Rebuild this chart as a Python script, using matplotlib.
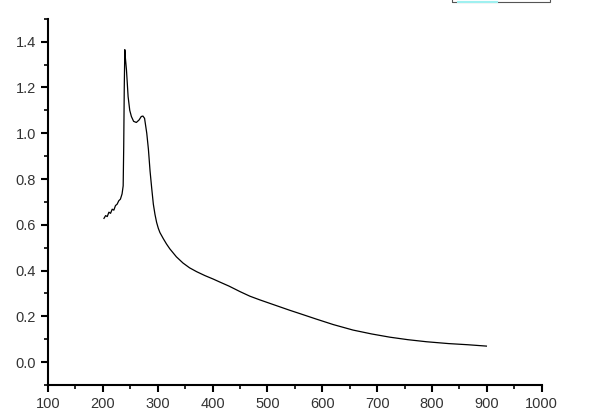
import matplotlib
matplotlib.use("Agg")
import matplotlib.pyplot as plt
from matplotlib.patches import Rectangle
from matplotlib.lines import Line2D
from matplotlib.ticker import MultipleLocator

# wavelength (nm) and absorbance
wl = [202, 205, 208, 211, 214, 217, 220, 223, 226, 229, 232, 235, 237,
      238, 239, 240, 241, 243, 246, 249, 252, 256, 261, 266, 270, 273,
      276, 280, 283, 286, 289, 292, 295, 298, 301, 304, 310, 316, 322,
      334, 346, 358, 371, 386, 401, 413, 430, 450, 468, 486, 504, 522,
      540, 559, 589, 620, 656, 690, 723, 756, 790, 830, 865, 899]
ab = [0.628, 0.640, 0.636, 0.655, 0.650, 0.668, 0.664, 0.684, 0.690, 0.705,
      0.712, 0.735, 0.770, 0.940, 1.200, 1.365, 1.330, 1.277, 1.160, 1.100,
      1.073, 1.052, 1.047, 1.058, 1.073, 1.075, 1.065, 1.000, 0.930, 0.835,
      0.760, 0.690, 0.645, 0.610, 0.585, 0.566, 0.540, 0.516, 0.495, 0.460,
      0.433, 0.412, 0.395, 0.378, 0.363, 0.350, 0.332, 0.308, 0.288, 0.272,
      0.257, 0.242, 0.227, 0.212, 0.188, 0.164, 0.140, 0.123, 0.109, 0.098,
      0.089, 0.081, 0.076, 0.070]

plt.rcParams['font.family'] = ['Liberation Sans', 'DejaVu Sans']

fig = plt.figure(figsize=(6, 4.2), dpi=100)
ax = fig.add_axes([0.08, 0.0833, 0.823, 0.872])

ax.plot(wl, ab, color="black", linewidth=0.9)

ax.set_xlim(100, 1000)
ax.set_ylim(-0.1, 1.5)
ax.xaxis.set_major_locator(MultipleLocator(100))
ax.xaxis.set_minor_locator(MultipleLocator(50))
ax.yaxis.set_major_locator(MultipleLocator(0.2))
ax.yaxis.set_minor_locator(MultipleLocator(0.1))
ax.yaxis.set_major_formatter(matplotlib.ticker.FormatStrFormatter("%.1f"))

for s in ["top", "right"]:
    ax.spines[s].set_visible(False)
for s in ["left", "bottom"]:
    ax.spines[s].set_linewidth(1.5)

ax.tick_params(which="major", direction="out", length=5, width=1.5,
               labelsize=10.5, labelcolor="#333333")
ax.tick_params(which="minor", direction="out", length=3, width=1.2)

# legend box cut off at the top edge
fig.patches.append(Rectangle((452 / 600, 418 / 420), 98 / 600, 0.02,
                             transform=fig.transFigure, fill=False,
                             edgecolor="#555555", linewidth=0.8))
fig.lines.append(Line2D([458 / 600, 497 / 600], [418.5 / 420, 418.5 / 420],
                        transform=fig.transFigure, color="#9ff0f0",
                        linewidth=1.5))

plt.savefig("out.png", dpi=100)
